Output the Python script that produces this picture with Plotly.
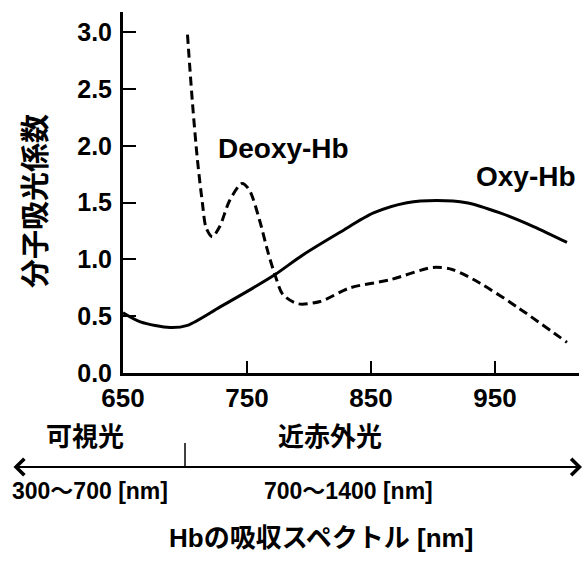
import plotly.graph_objects as go

# Data
oxy_x = [650, 664, 688, 702, 728, 755, 773, 795, 825, 852, 879, 903, 927, 954, 981, 1008]
oxy_y = [0.53, 0.45, 0.40, 0.42, 0.58, 0.75, 0.87, 1.04, 1.24, 1.41, 1.50, 1.52, 1.50, 1.41, 1.29, 1.15]

deoxy_x = [702, 706, 710, 714, 717, 722, 728, 736, 746, 752, 760, 767, 773, 779, 791, 809, 833, 865, 900, 916, 938, 968, 1008]
deoxy_y = [2.98, 2.38, 1.88, 1.50, 1.28, 1.20, 1.29, 1.52, 1.67, 1.61, 1.35, 1.06, 0.85, 0.69, 0.61, 0.63, 0.75, 0.82, 0.93, 0.91, 0.79, 0.58, 0.27]

x_ticks = [650, 750, 850, 950]
y_ticks = [0.0, 0.5, 1.0, 1.5, 2.0, 2.5, 3.0]

FONT = "Liberation Sans, Arial, Noto Sans CJK JP, sans-serif"

fig = go.Figure()
fig.add_trace(go.Scatter(x=oxy_x, y=oxy_y, mode="lines",
                         line=dict(color="black", width=3, shape="spline", smoothing=0.8),
                         showlegend=False, hoverinfo="skip"))
fig.add_trace(go.Scatter(x=deoxy_x, y=deoxy_y, mode="lines",
                         line=dict(color="black", width=3, shape="spline", smoothing=0.8, dash="9px,5px"),
                         showlegend=False, hoverinfo="skip"))

fig.update_layout(
    width=585, height=561,
    margin=dict(l=123, r=6, t=12, b=188),
    plot_bgcolor="white", paper_bgcolor="white",
    font=dict(family=FONT, color="black"),
    xaxis=dict(range=[650, 1017.7], tickvals=x_ticks, ticktext=[str(v) for v in x_ticks],
               showline=True, linecolor="black", linewidth=3, ticks="inside", ticklen=12,
               tickwidth=2, tickcolor="black", showgrid=False, zeroline=False, automargin=False,
               tickfont=dict(size=26, family=FONT, weight="bold"), ticklabelstandoff=0),
    yaxis=dict(range=[0, 3.18], tickvals=y_ticks, ticktext=[f"{v:.1f}" for v in y_ticks],
               showline=True, linecolor="black", linewidth=3, ticks="inside", ticklen=13,
               tickwidth=2, tickcolor="black", showgrid=False, zeroline=False, automargin=False,
               tickfont=dict(size=25, family=FONT, weight="bold"), ticklabelstandoff=3),
)

def px2paper_x(px):
    return (px - 123) / 456.0

def px2paper_y(py):
    return (373 - py) / 361.0

annos = [
    dict(text="<b>Deoxy-Hb</b>", x=725, y=1.98, xref="x", yref="y", xanchor="left", yanchor="middle", size=28),
    dict(text="<b>Oxy-Hb</b>", x=1017, y=1.73, xref="x", yref="y", xanchor="right", yanchor="middle", size=28),
    dict(text="<b>可視光</b>", x=px2paper_x(85), y=px2paper_y(437), xref="paper", yref="paper", xanchor="center", yanchor="middle", size=26),
    dict(text="<b>近赤外光</b>", x=px2paper_x(330), y=px2paper_y(437), xref="paper", yref="paper", xanchor="center", yanchor="middle", size=26),
    dict(text="<b>300〜700 [nm]</b>", x=px2paper_x(90), y=px2paper_y(491), xref="paper", yref="paper", xanchor="center", yanchor="middle", size=23),
    dict(text="<b>700〜1400 [nm]</b>", x=px2paper_x(348), y=px2paper_y(491), xref="paper", yref="paper", xanchor="center", yanchor="middle", size=23),
    dict(text="<b>Hbの吸収スペクトル [nm]</b>", x=px2paper_x(321), y=px2paper_y(538), xref="paper", yref="paper", xanchor="center", yanchor="middle", size=26),
]
for a in annos:
    size = a.pop("size")
    fig.add_annotation(showarrow=False, font=dict(size=size, family=FONT, color="black"), **a)

# y-axis title
fig.add_annotation(text="<b>分子吸光係数</b>", x=px2paper_x(36), y=px2paper_y(201), xref="paper", yref="paper",
                   textangle=-90, showarrow=False, xanchor="center", yanchor="middle",
                   font=dict(size=29, family=FONT, color="black"))

# double-headed arrow below the chart
fig.add_annotation(text="", x=px2paper_x(582), y=px2paper_y(467), xref="paper", yref="paper",
                   ax=-570, ay=0, axref="pixel", ayref="pixel",
                   showarrow=True, arrowhead=4, startarrowhead=4, arrowside="end+start",
                   arrowsize=1.6, arrowwidth=2, arrowcolor="black", standoff=0, startstandoff=0)

# boundary mark at 700 nm
fig.add_shape(type="line", xref="x", yref="paper", x0=700, x1=700,
              y0=px2paper_y(443), y1=px2paper_y(467), line=dict(color="black", width=1.5))

fig.write_html("out.html", config={"displayModeBar": False},
               post_script="document.body.style.margin='0';document.body.style.overflow='hidden';")
